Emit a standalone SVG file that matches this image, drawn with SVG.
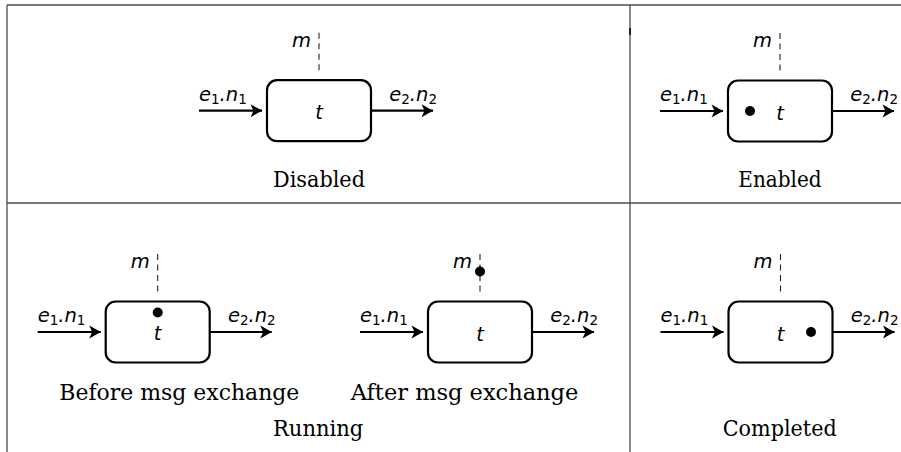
<svg xmlns="http://www.w3.org/2000/svg" width="901" height="452" viewBox="0 0 901 452">
  <style>
    .rule { stroke: #4d4d4d; stroke-width: 1.3; fill: none; }
    .box { fill: #fff; stroke: #000; stroke-width: 2.2; }
    .arc { stroke: #000; stroke-width: 2.2; fill: none; }
    .msg { stroke: #222; stroke-width: 1.1; stroke-dasharray: 6 4.5; fill: none; }
    .tok { fill: #000; }
    .lbl { font-family: "DejaVu Sans", "Liberation Sans", sans-serif; font-size: 19.5px; font-style: italic; fill: #000; }
    .sub { font-style: normal; font-size: 13.5px; }
    .cap { font-family: "DejaVu Serif", serif; font-size: 21.5px; fill: #000; }
  </style>
  <defs>
    <marker id="head" viewBox="-12 -7 13 14" refX="0" refY="0" markerWidth="13" markerHeight="14" markerUnits="userSpaceOnUse" orient="auto">
      <path d="M0.5,0 C-3.5,-1.8 -8,-4.5 -11.5,-6.5 L-8.5,0 L-11.5,6.5 C-8,4.5 -3.5,1.8 0.5,0 Z" fill="#000"/>
    </marker>
    <!-- one transition: box, message stub, labels; origin at the box centre -->
    <g id="transition">
      <line class="msg" x1="0" y1="-78" x2="0" y2="-38"/>
      <rect class="box" x="-52" y="-30.5" width="104" height="61" rx="10" ry="10"/>
      <text class="lbl" x="-8" y="-64" text-anchor="end">m</text>
      <text class="lbl" x="-120" y="-10">e<tspan class="sub" dy="3">1</tspan><tspan dy="-3">.n</tspan><tspan class="sub" dy="3">1</tspan></text>
      <text class="lbl" x="118" y="-10" text-anchor="end">e<tspan class="sub" dy="3">2</tspan><tspan dy="-3">.n</tspan><tspan class="sub" dy="3">2</tspan></text>
    </g>
  </defs>

  <!-- table rules -->
  <g id="table">
    <line class="rule" x1="7" y1="5" x2="901" y2="5"/>
    <line class="rule" x1="7" y1="5" x2="7" y2="452"/>
    <line class="rule" x1="630" y1="5" x2="630" y2="452"/>
    <line class="rule" x1="7" y1="203" x2="901" y2="203"/>
    <line x1="630" y1="28" x2="630" y2="35" stroke="#222" stroke-width="2"/>
  </g>

  <!-- connectors: input and output arcs of each transition -->
  <g id="connectors">
    <line class="arc" x1="199" y1="110.7" x2="262" y2="110.7" marker-end="url(#head)"/>
    <line class="arc" x1="371" y1="110.7" x2="433" y2="110.7" marker-end="url(#head)"/>
    <line class="arc" x1="660" y1="111" x2="723" y2="111" marker-end="url(#head)"/>
    <line class="arc" x1="832" y1="111" x2="894" y2="111" marker-end="url(#head)"/>
    <line class="arc" x1="37.7" y1="332" x2="100.7" y2="332" marker-end="url(#head)"/>
    <line class="arc" x1="209.7" y1="332" x2="271.7" y2="332" marker-end="url(#head)"/>
    <line class="arc" x1="360" y1="332" x2="423" y2="332" marker-end="url(#head)"/>
    <line class="arc" x1="532" y1="332" x2="594" y2="332" marker-end="url(#head)"/>
    <line class="arc" x1="660.5" y1="332" x2="723.5" y2="332" marker-end="url(#head)"/>
    <line class="arc" x1="832.5" y1="332" x2="894.5" y2="332" marker-end="url(#head)"/>
  </g>

  <!-- Disabled -->
  <g id="disabled" transform="translate(319,110.7)">
    <use href="#transition"/>
    <text class="lbl" x="0" y="8.5" text-anchor="middle">t</text>
  </g>
  <text class="cap" x="273" y="186.7" textLength="92" lengthAdjust="spacingAndGlyphs">Disabled</text>

  <!-- Enabled -->
  <g id="enabled" transform="translate(780,111)">
    <use href="#transition"/>
    <circle class="tok" cx="-30" cy="0" r="5"/>
    <text class="lbl" x="0" y="8.5" text-anchor="middle">t</text>
  </g>
  <text class="cap" x="738.3" y="186.7" textLength="83.4" lengthAdjust="spacingAndGlyphs">Enabled</text>

  <!-- Running, before message exchange -->
  <g id="running-before" transform="translate(157.7,332)">
    <use href="#transition"/>
    <circle class="tok" cx="0" cy="-19.5" r="5"/>
    <text class="lbl" x="0" y="7.5" text-anchor="middle">t</text>
  </g>
  <text class="cap" x="59.3" y="400" textLength="240" lengthAdjust="spacingAndGlyphs">Before msg exchange</text>

  <!-- Running, after message exchange -->
  <g id="running-after" transform="translate(480,332)">
    <use href="#transition"/>
    <circle class="tok" cx="0" cy="-60.5" r="5"/>
    <text class="lbl" x="0" y="8.5" text-anchor="middle">t</text>
  </g>
  <text class="cap" x="350.7" y="400" textLength="227.6" lengthAdjust="spacingAndGlyphs">After msg exchange</text>
  <text class="cap" x="273" y="436" textLength="90.3" lengthAdjust="spacingAndGlyphs">Running</text>

  <!-- Completed -->
  <g id="completed" transform="translate(780.5,332)">
    <use href="#transition"/>
    <circle class="tok" cx="30.5" cy="0" r="5"/>
    <text class="lbl" x="0" y="8.5" text-anchor="middle">t</text>
  </g>
  <text class="cap" x="722.7" y="436" textLength="114" lengthAdjust="spacingAndGlyphs">Completed</text>
</svg>
